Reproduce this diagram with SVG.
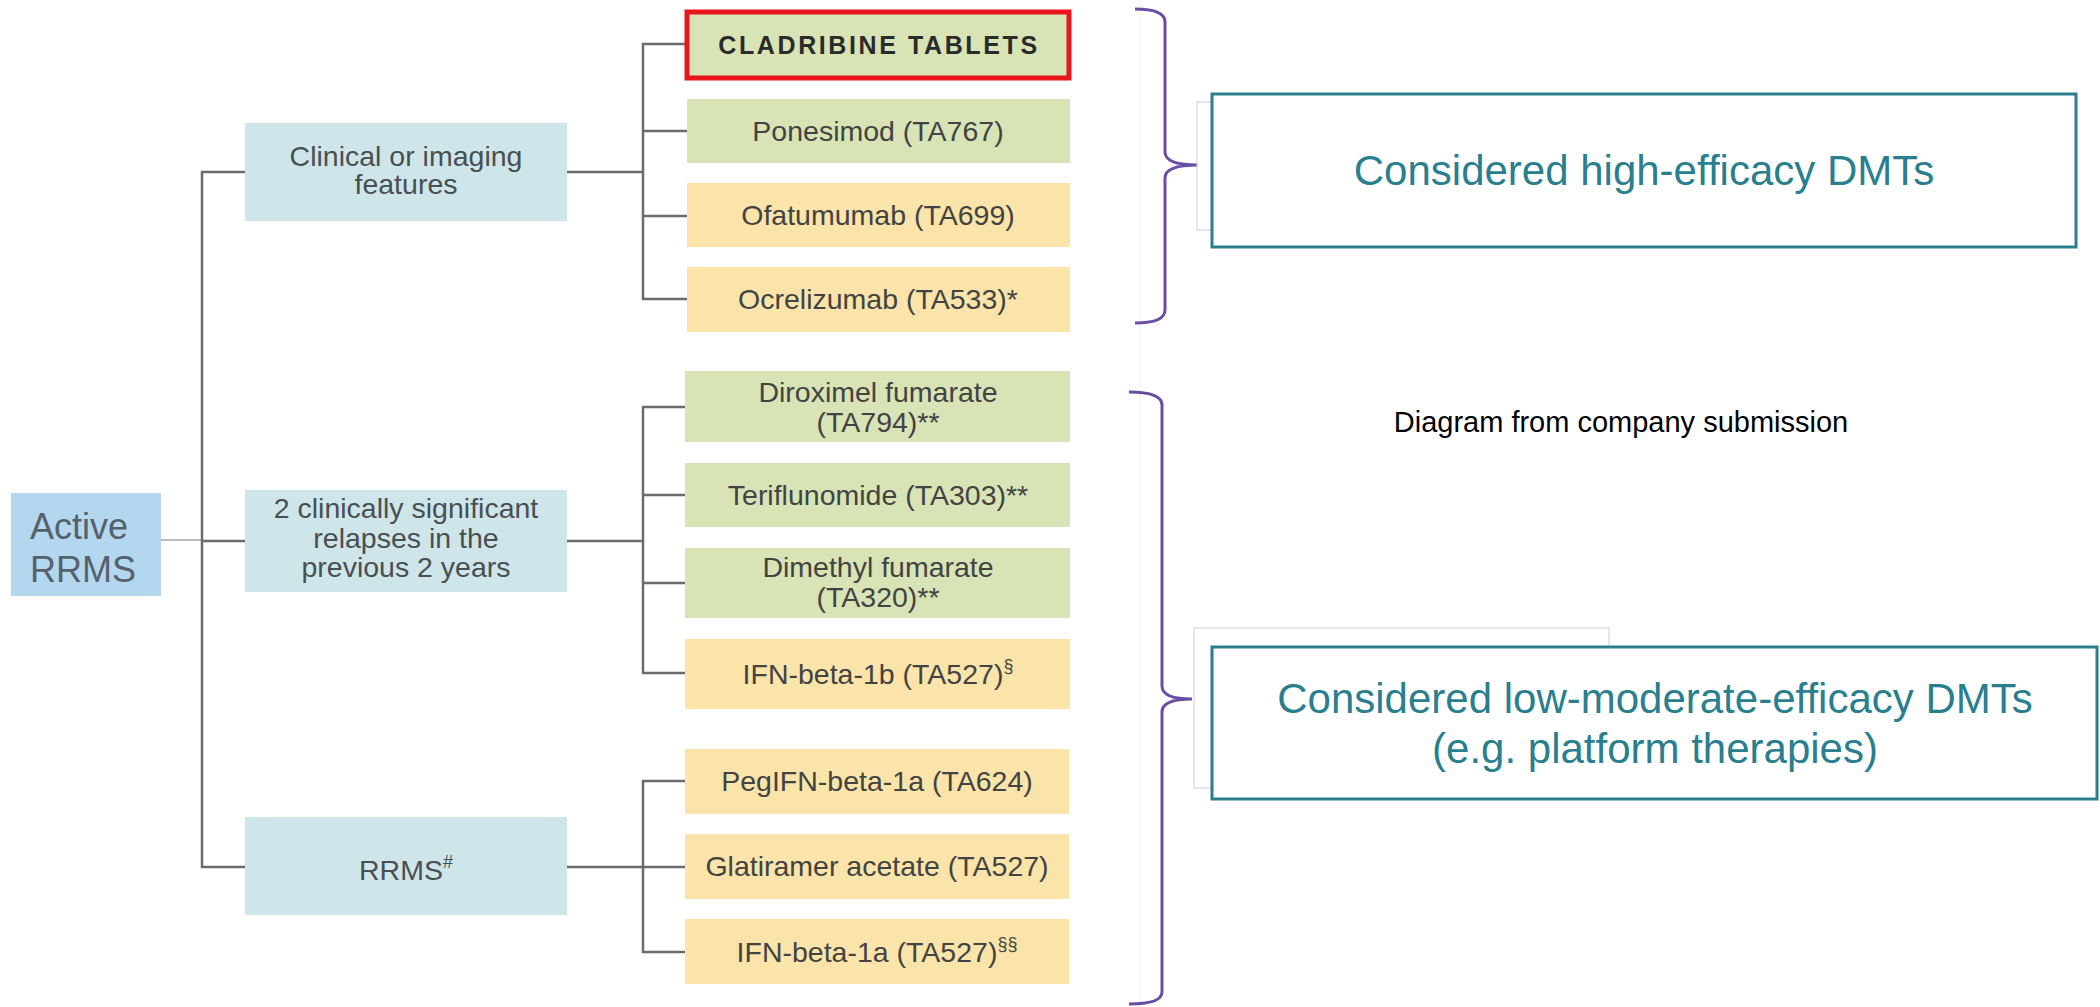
<svg xmlns="http://www.w3.org/2000/svg" width="2100" height="1007" viewBox="0 0 2100 1007">
<style>
text{font-family:"Liberation Sans",Arial,sans-serif}
.g{fill:#d8e3b6}
.y{fill:#fae4a9}
.c{fill:#cee6ea}
.lbl{font-size:28.5px;fill:#434343;text-anchor:middle}
.cond{font-size:28.5px;fill:#4a4f52;text-anchor:middle}
.sup{font-size:18px}
.conn{stroke:#6b6b6b;stroke-width:2.5;fill:none}
.brace{stroke:#6a4ea6;stroke-width:3;fill:none}
.ghost{fill:#fff;stroke:#cfcfcf;stroke-width:1}
.cat{fill:#fff;stroke:#2b7e8e;stroke-width:3}
.catT{font-size:42px;fill:#2a7f8f;text-anchor:middle}
</style>
<rect width="2100" height="1007" fill="#fff"/>
<line x1="1140" y1="0" x2="1140" y2="1007" stroke="#efefef" stroke-width="1"/>

<g id="connectors">
  <line x1="161" y1="540" x2="202" y2="540" stroke="#777" stroke-width="1.2"/>
  <path class="conn" d="M245,172 H202 V867 H245"/>
  <path class="conn" d="M202,541 H245"/>
  <path class="conn" d="M567,172 H643 M687,44 H643 V299 H687 M643,131 H687 M643,216 H687"/>
  <path class="conn" d="M567,541 H643 M685,407 H643 V673 H685 M643,495 H685 M643,583 H685"/>
  <path class="conn" d="M567,867 H685 M685,781 H643 V952 H685"/>
</g>

<g id="active-rrms">
  <rect x="11" y="493" width="150" height="103" fill="#b3d7ef"/>
  <text x="30" y="539" font-size="36" fill="#56616c">Active</text>
  <text x="30" y="582" font-size="36" fill="#56616c">RRMS</text>
</g>

<g id="clinical-imaging">
  <rect class="c" x="245" y="123" width="322" height="98"/>
  <text class="cond" x="406" y="166">Clinical or imaging</text>
  <text class="cond" x="406" y="194">features</text>
</g>
<g id="two-relapses">
  <rect class="c" x="245" y="490" width="322" height="102"/>
  <text class="cond" x="406" y="518">2 clinically significant</text>
  <text class="cond" x="406" y="548">relapses in the</text>
  <text class="cond" x="406" y="577">previous 2 years</text>
</g>
<g id="rrms">
  <rect class="c" x="245" y="817" width="322" height="98"/>
  <text class="cond" x="406" y="880">RRMS<tspan class="sup" dy="-12">#</tspan></text>
</g>

<g id="cladribine">
  <rect class="g" x="687" y="12" width="382" height="66" stroke="#e8151b" stroke-width="5"/>
  <text x="879" y="54" text-anchor="middle" font-size="25" font-weight="bold" letter-spacing="2.6" fill="#2b2b2b">CLADRIBINE TABLETS</text>
</g>
<g id="ponesimod">
  <rect class="g" x="687" y="99" width="383" height="64"/>
  <text class="lbl" x="878" y="141">Ponesimod (TA767)</text>
</g>
<g id="ofatumumab">
  <rect class="y" x="687" y="183" width="383" height="64"/>
  <text class="lbl" x="878" y="225">Ofatumumab (TA699)</text>
</g>
<g id="ocrelizumab">
  <rect class="y" x="687" y="267" width="383" height="65"/>
  <text class="lbl" x="878" y="309">Ocrelizumab (TA533)*</text>
</g>
<g id="diroximel">
  <rect class="g" x="685" y="371" width="385" height="71"/>
  <text class="lbl" x="878" y="402">Diroximel fumarate</text>
  <text class="lbl" x="878" y="432">(TA794)**</text>
</g>
<g id="teriflunomide">
  <rect class="g" x="685" y="463" width="385" height="64"/>
  <text class="lbl" x="878" y="505">Teriflunomide (TA303)**</text>
</g>
<g id="dimethyl">
  <rect class="g" x="685" y="548" width="385" height="70"/>
  <text class="lbl" x="878" y="577">Dimethyl fumarate</text>
  <text class="lbl" x="878" y="607">(TA320)**</text>
</g>
<g id="ifn-1b">
  <rect class="y" x="685" y="639" width="385" height="70"/>
  <text class="lbl" x="878" y="684">IFN-beta-1b (TA527)<tspan class="sup" dy="-12">§</tspan></text>
</g>
<g id="pegifn">
  <rect class="y" x="685" y="749" width="384" height="65"/>
  <text class="lbl" x="877" y="791">PegIFN-beta-1a (TA624)</text>
</g>
<g id="glatiramer">
  <rect class="y" x="685" y="834" width="384" height="65"/>
  <text class="lbl" x="877" y="876">Glatiramer acetate (TA527)</text>
</g>
<g id="ifn-1a">
  <rect class="y" x="685" y="919" width="384" height="65"/>
  <text class="lbl" x="877" y="962">IFN-beta-1a (TA527)<tspan class="sup" dy="-12">§§</tspan></text>
</g>

<g id="brace-high">
  <path class="brace" d="M1135,9 Q1165,9 1165,22 L1165,152 Q1165,165 1198,165 Q1165,165 1165,178 L1165,310 Q1165,323 1135,323"/>
</g>
<g id="brace-low">
  <path class="brace" d="M1129,392 Q1162,392 1162,405 L1162,686 Q1162,699 1192,699 Q1162,699 1162,712 L1162,992 Q1162,1004 1129,1004"/>
</g>

<g id="ghost-boxes">
  <rect class="ghost" x="1197" y="102" width="100" height="128"/>
  <rect class="ghost" x="1194" y="628" width="415" height="160"/>
</g>

<g id="high-efficacy">
  <rect class="cat" x="1212" y="94" width="864" height="153"/>
  <text class="catT" x="1644" y="185">Considered high-efficacy DMTs</text>
</g>
<g id="low-moderate">
  <rect class="cat" x="1212" y="647" width="885" height="152"/>
  <text class="catT" x="1655" y="713">Considered low-moderate-efficacy DMTs</text>
  <text class="catT" x="1655" y="763">(e.g. platform therapies)</text>
</g>

<g id="caption">
  <text x="1621" y="432" text-anchor="middle" font-size="29" fill="#000">Diagram from company submission</text>
</g>
</svg>
